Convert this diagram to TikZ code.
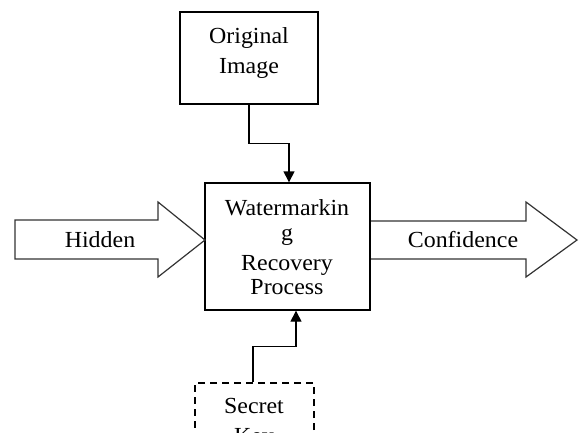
\documentclass[tikz,border=0pt]{standalone}
\usepackage{fontspec}
\setmainfont{Liberation Serif}[FakeStretch=1.04]
\usetikzlibrary{arrows.meta}
\begin{document}
\begin{tikzpicture}[x=1pt,y=-1pt,
  box/.style={draw=black,line width=1.4pt,inner sep=0pt},
  lbl/.style={font=\fontsize{23}{26.5}\selectfont,inner sep=0pt,align=center},
  conn/.style={draw=black,line width=1.4pt,-{Triangle[length=11pt,width=11pt]}},
  blockarrow/.style={draw=black!80,line width=1.2pt,line join=miter}]
\clip (0,0) rectangle (579,432);
\fill[white] (0,0) rectangle (579,432);
% boxes
\node[box,minimum width=138pt,minimum height=92pt] (orig) at (249,58) {};
\node[lbl,anchor=base] (origtxt) at (249,43) {Original};
\node[lbl,anchor=base] (imgtxt) at (249,73) {Image};
\node[box,minimum width=165pt,minimum height=127pt] (main) at (287.5,246.5) {};
\node[lbl,anchor=base] (t1) at (287,215) {Watermarkin};
\node[lbl,anchor=base] (t2) at (287,240) {g};
\node[lbl,anchor=base] (t3) at (287,270) {Recovery};
\node[lbl,anchor=base] (t4) at (287,294) {Process};
\node[box,dashed,dash pattern=on 7pt off 5pt,minimum width=119pt,minimum height=72pt] (secret) at (254.5,419) {};
\node[lbl,anchor=base] (sec1) at (254,413) {Secret};
\node[lbl,anchor=base] (sec2) at (254,443) {Key};
% block arrows
\draw[blockarrow] (15,220) -- (158,220) -- (158,202) -- (205,240) -- (158,277) -- (158,259) -- (15,259) -- cycle;
\node[lbl,anchor=base] (hidden) at (100,247) {Hidden};
\draw[blockarrow] (371,221) -- (526,221) -- (526,202) -- (577,240) -- (526,277) -- (526,259) -- (371,259);
\node[lbl,anchor=base] (conf) at (463,247) {Confidence};
% connectors
\draw[conn] (orig.south) -- ++(0,39) -| ([xshift=1.5pt]main.north);
\draw[conn] ([xshift=-1.5pt]secret.north) -- ++(0,-36) -| ([xshift=8.5pt]main.south);
\end{tikzpicture}
\end{document}
